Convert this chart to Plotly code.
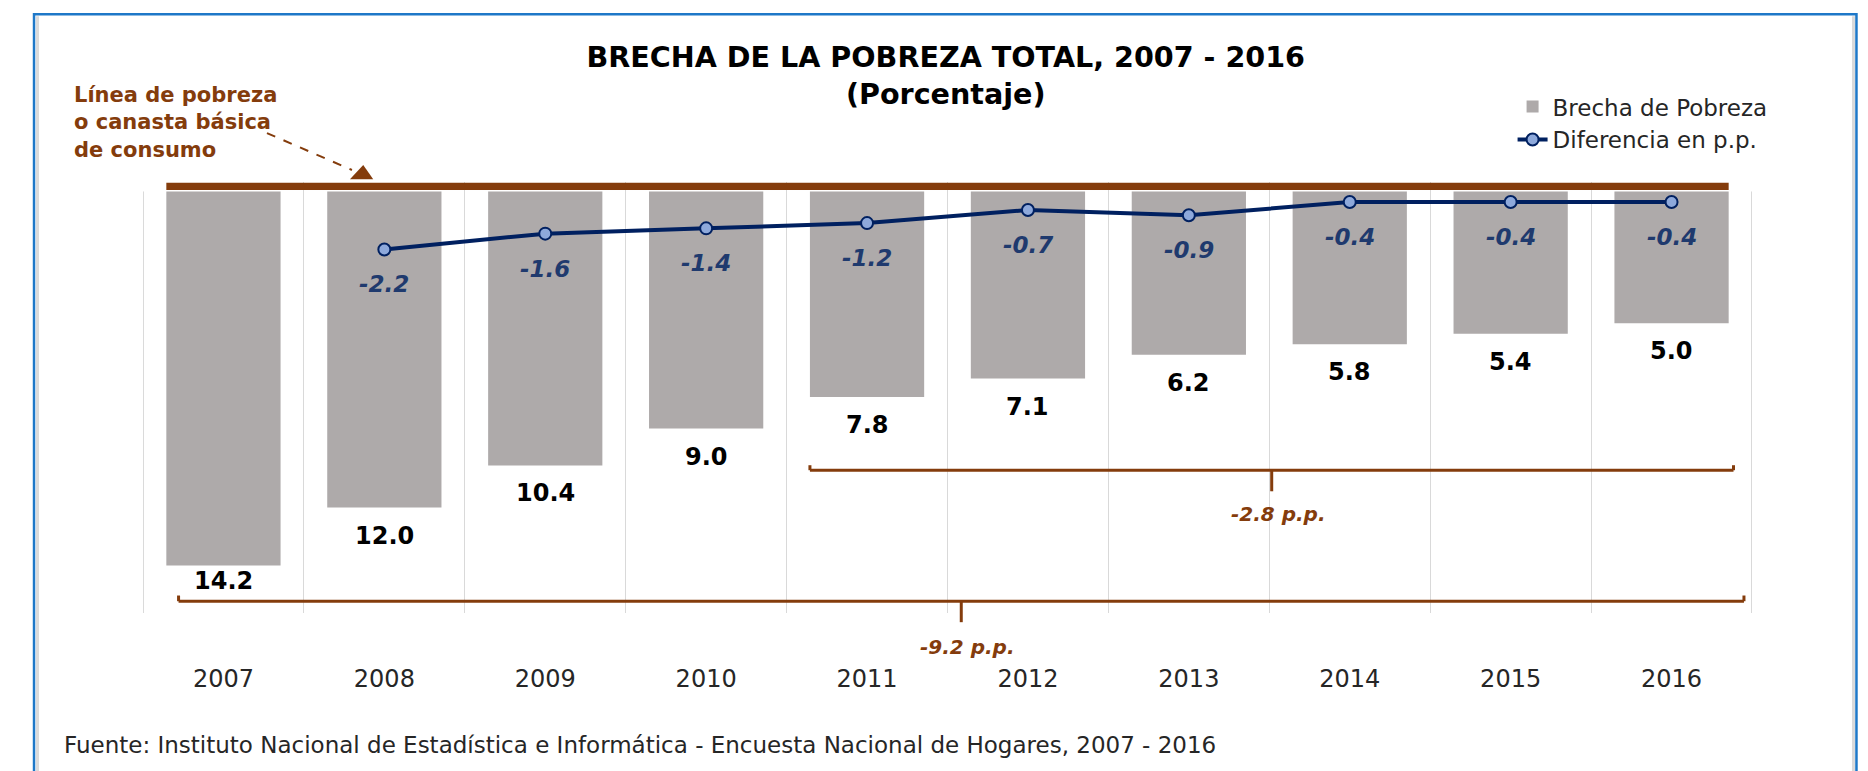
import plotly.graph_objects as go

# ---------------- data ----------------
years = ["2007", "2008", "2009", "2010", "2011", "2012", "2013", "2014", "2015", "2016"]
brecha = [14.2, 12.0, 10.4, 9.0, 7.8, 7.1, 6.2, 5.8, 5.4, 5.0]
diferencia = [None, -2.2, -1.6, -1.4, -1.2, -0.7, -0.9, -0.4, -0.4, -0.4]

# ---------------- style ----------------
FONT = "DejaVu Sans"
BROWN = "#843C0C"
NAVY = "#002060"
GREY_BAR = "#AEAAAA"
W, H = 1868, 771
OFF = 8  # page offset of the figure (body margin)
ML, MT = 143 - OFF, 182 - OFF
PW = 1609.5
PB = 613.5 - OFF          # plot bottom in figure px
MB = H - PB
MR = W - ML - PW
PH = PB - MT


def px(x):  # page px -> paper
    return (x - OFF - ML) / PW


def py(y):  # page px -> paper
    return (PB - (y - OFF)) / PH


fig = go.Figure()

fig.add_trace(go.Bar(
    x=years, y=[-v for v in brecha], name="Brecha de Pobreza",
    marker=dict(color=GREY_BAR, line=dict(width=0)),
    legendgroup="a", hoverinfo="skip",
))
fig.add_trace(go.Scatter(
    x=years, y=diferencia, name="Diferencia en p.p.", mode="lines+markers",
    line=dict(color=NAVY, width=4),
    marker=dict(size=12, color="#8EA9DB", line=dict(color=NAVY, width=2)),
    legendgroup="b", hoverinfo="skip",
))

annotations = []
# bar value labels
for i, v in enumerate(brecha):
    annotations.append(dict(
        x=i, y=-v, xref="x", yref="y", text=f"<b>{v:.1f}</b>", showarrow=False,
        yanchor="middle", yshift=-15 if i == 0 else -28,
        font=dict(family=FONT, size=24, color="#000000"),
    ))
# difference labels
for i, d in enumerate(diferencia):
    if d is None:
        continue
    annotations.append(dict(
        x=i, y=d, xref="x", yref="y", text=f"<b><i>{d:.1f}</i></b>", showarrow=False,
        yanchor="middle", yshift=-35,
        font=dict(family=FONT, size=23, color="#1F3A6E"),
    ))

# bracket labels (computed from data)
d_short = brecha[-1] - brecha[4]
d_long = brecha[-1] - brecha[0]
annotations.append(dict(
    x=6.56, y=-12.25, xref="x", yref="y", text=f"<b><i>{d_short:.1f} p.p.</i></b>",
    showarrow=False, font=dict(family=FONT, size=20, color=BROWN),
))
annotations.append(dict(
    x=4.627, y=py(661.5), xref="x", yref="paper", text=f"<b><i>{d_long:.1f} p.p.</i></b>",
    showarrow=False, font=dict(family=FONT, size=20, color=BROWN),
))
# poverty line note
annotations.append(dict(
    x=px(72), y=py(122), xref="paper", yref="paper", xanchor="left", yanchor="middle",
    align="left", showarrow=False,
    text="<b>Línea de pobreza<br>o canasta básica<br>de consumo</b>",
    font=dict(family=FONT, size=21, color=BROWN),
))
# source
annotations.append(dict(
    x=px(62), y=py(745.5), xref="paper", yref="paper", xanchor="left", yanchor="middle",
    showarrow=False,
    text="Fuente: Instituto Nacional de Estadística e Informática - Encuesta Nacional de Hogares, 2007 - 2016",
    font=dict(family=FONT, size=23, color="#262626"),
))

shapes = []
# frame
shapes.append(dict(type="rect", xref="paper", yref="paper", x0=px(34), x1=px(1857),
                   y0=py(800), y1=py(14), line=dict(color="#1E78C8", width=2.5), layer="above"))
for xx in (37.5, 1854):
    shapes.append(dict(type="line", xref="paper", yref="paper", x0=px(xx), x1=px(xx),
                       y0=py(800), y1=py(16), line=dict(color="#DADADA", width=3)))
# outer vertical gridlines at the plot edges
for xx in (-0.497, len(years) - 1 + 0.497):
    shapes.append(dict(type="line", xref="x", yref="y", x0=xx, x1=xx, y0=0, y1=-16,
                       line=dict(color="#D9D9D9", width=1), layer="below"))
# poverty line
half = 0.355
shapes.append(dict(type="line", xref="x", yref="y", x0=0 - half, x1=len(years) - 1 + half,
                   y0=0.197, y1=0.197, line=dict(color=BROWN, width=7.3)))
# dashed arrow
shapes.append(dict(type="line", xref="paper", yref="paper", x0=px(267), y0=py(133),
                   x1=px(352), y1=py(170), line=dict(color=BROWN, width=2, dash="dash")))
shapes.append(dict(type="path", xref="paper", yref="paper",
                   path=f"M {px(350)},{py(179.3)} L {px(373.3)},{py(179.3)} L {px(363.3)},{py(165)} Z",
                   fillcolor=BROWN, line=dict(width=0)))

# bracket 2011-2016 (data coords)
bx0, bx1, by, hook, stem = 4 - half, 9.385, -10.58, 0.19, -11.38
bm = (bx0 + bx1) / 2
for (a, b, c, d) in [(bx0, by, bx1, by), (bx0, by, bx0, by + hook), (bx1, by, bx1, by + hook),
                     (bm, by, bm, stem)]:
    shapes.append(dict(type="line", xref="x", yref="y", x0=a, y0=b, x1=c, y1=d,
                       line=dict(color=BROWN, width=3)))
# bracket 2007-2016 (x data, y paper)
cx0, cx1 = -0.279, 9.45
cy, chook, cstem = py(601.7), py(596), py(622.7)
cm = (cx0 + cx1) / 2
for (a, b, c, d) in [(cx0, cy, cx1, cy), (cx0, cy, cx0, chook), (cx1, cy, cx1, chook),
                     (cm, cy, cm, cstem)]:
    shapes.append(dict(type="line", xref="x", yref="paper", x0=a, y0=b, x1=c, y1=d,
                       line=dict(color=BROWN, width=3)))

fig.update_layout(
    width=W, height=H,
    margin=dict(l=ML, r=MR, t=MT, b=MB, autoexpand=False),
    paper_bgcolor="white", plot_bgcolor="white",
    bargap=0.29,
    font=dict(family=FONT, color="#262626"),
    title=dict(
        text="<b>BRECHA DE LA POBREZA TOTAL, 2007 - 2016</b><br><b>(Porcentaje)</b>",
        x=px(946), xref="paper", xanchor="center",
        y=1 - 59 / H, yref="container", yanchor="middle",
        font=dict(family=FONT, size=28.6, color="#000000"),
    ),
    showlegend=True,
    legend=dict(
        x=px(1513), y=py(85), xref="paper", yref="paper", xanchor="left", yanchor="top",
        font=dict(family=FONT, size=23, color="#262626"),
        bgcolor="rgba(0,0,0,0)", tracegroupgap=7, traceorder="normal",
    ),
    xaxis=dict(
        type="category", range=[-0.5, 9.5], tickson="boundaries",
        showgrid=True, gridcolor="#D9D9D9", gridwidth=1,
        showline=False, zeroline=False, ticks="",
        tickfont=dict(family=FONT, size=24, color="#262626"),
        ticklabelstandoff=49,
    ),
    yaxis=dict(range=[-16, 0.36], visible=False, showgrid=False, zeroline=False),
    annotations=annotations,
    shapes=shapes,
)

fig.write_html("out.html")
